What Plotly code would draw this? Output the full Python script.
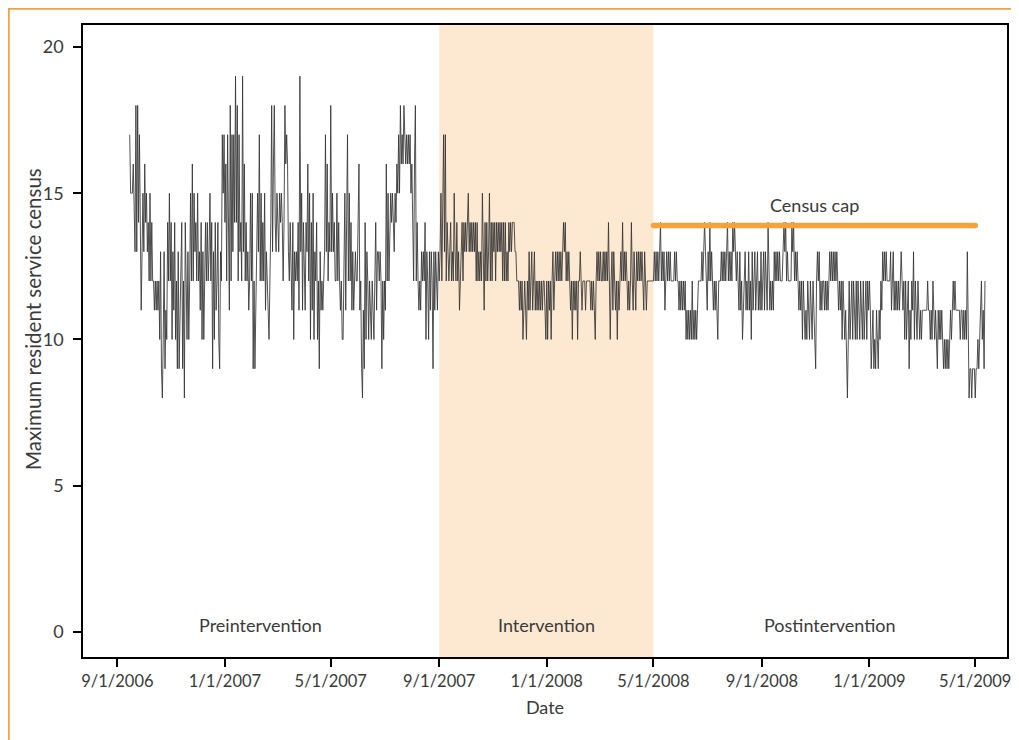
import pandas as pd
import plotly.graph_objects as go

# ---- data ----
start_date = "2006-09-15"
census = [
    # Sep 2006 - Jan 2007
    17, 15, 15, 15, 16, 14, 13, 18, 13, 18, 14, 17, 12, 11, 13,
    15, 13, 16, 14, 15, 13, 14, 12, 15, 12, 14, 12, 12, 11, 12, 11,
    12, 11, 12, 10, 13, 9, 8, 10, 13, 9, 11, 10, 14, 12, 15, 12,
    14, 10, 13, 11, 14, 10, 12, 9, 13, 9, 11, 13, 14, 9, 12, 8,
    14, 12, 10, 13, 10, 12, 15, 12, 16, 12, 15, 13, 14, 12, 15, 12,
    13, 11, 14, 10, 13, 10, 12, 14, 12, 14, 12, 13, 15, 12, 14, 9,
    13, 10, 14, 11, 12, 14, 10, 9, 13, 12, 17, 15, 17, 14, 16, 12,
    17, 13, 11,
    # Jan 2007 - May 2007
    18, 12, 17, 13, 17, 14, 19, 14, 18, 12, 17, 13, 14, 12, 19, 13,
    16, 12, 14, 12, 13, 11, 12, 15, 12, 15, 9, 12, 9, 11, 12, 15,
    13, 17, 12, 15, 12, 14, 12, 15, 11, 13, 12, 11, 10, 12, 14, 18,
    13, 16, 18, 14, 13, 15, 14, 13, 15, 14, 15, 14, 12, 14, 18, 16,
    17, 16, 13, 12, 14, 12, 11, 14, 10, 13, 12, 13, 12, 14, 11, 19,
    13, 15, 11, 14, 12, 11, 14, 13, 16, 12, 15, 10, 14, 11, 15, 10,
    13, 12, 14, 10, 12, 9, 13, 11, 12, 11, 12, 13, 17, 13, 16, 12,
    14, 13, 18, 13, 15, 13, 14, 12,
    # May 2007 - Sep 2007
    12, 15, 12, 14, 12, 11, 12, 10, 10, 12, 15, 11, 14, 17, 12, 15,
    12, 14, 11, 13, 11, 12, 13, 12, 12, 14, 16, 11, 12, 9, 8, 11,
    9, 14, 10, 13, 12, 10, 12, 11, 10, 12, 11, 10, 12, 14, 11, 13,
    13, 12, 13, 12, 9, 12, 10, 12, 11, 16, 12, 15, 12, 14, 15, 14,
    15, 14, 13, 15, 14, 16, 15, 17, 15, 18, 16, 17, 16, 18, 17, 16,
    17, 16, 17, 16, 17, 15, 16, 13, 12, 16, 18, 12, 14, 12, 11, 12,
    11, 13, 12, 13, 12, 14, 10, 13, 12, 10, 13, 11, 13, 12, 9, 13,
    11, 13, 12, 11, 13, 12,
    # Sep 2007 - Jan 2008 (intervention)
    13, 15, 12, 16, 17, 13, 17, 12, 14, 13, 12, 13, 14, 12, 13, 12,
    15, 13, 12, 14, 12, 13, 11, 12, 13, 14, 12, 14, 13, 14, 13, 14,
    15, 13, 14, 13, 14, 13, 14, 13, 14, 12, 14, 12, 13, 12, 13, 12,
    15, 13, 11, 14, 12, 14, 12, 13, 15, 12, 14, 12, 14, 13, 14, 12,
    14, 13, 14, 13, 14, 13, 14, 12, 14, 12, 14, 12, 13, 12, 14, 13,
    14, 13, 14, 14, 14, 13, 13, 12, 12, 12, 11, 12, 11, 12, 10, 11,
    12, 11, 10, 12, 11, 13, 11, 12, 13, 11, 12, 13, 11, 12, 11, 12,
    11, 12, 11, 12, 11, 12, 12, 11,
    # Jan 2008 - May 2008
    10, 12, 10, 12, 11, 12, 10, 12, 13, 11, 12, 13, 12, 13, 12, 13,
    12, 13, 12, 13, 14, 13, 14, 12, 13, 12, 13, 12, 11, 12, 10, 12,
    11, 12, 11, 12, 10, 12, 12, 13, 12, 11, 12, 12, 12, 11, 12, 12,
    12, 12, 12, 11, 12, 11, 12, 11, 10, 12, 13, 12, 13, 12, 13, 12,
    12, 13, 12, 13, 12, 13, 12, 14, 12, 10, 12, 13, 11, 13, 12, 11,
    12, 10, 12, 11, 12, 13, 12, 14, 12, 13, 12, 13, 12, 11, 12, 11,
    12, 14, 12, 11, 13, 12, 11, 13, 12, 13, 12, 13, 12, 13, 12, 11,
    13, 12, 11, 12, 12, 12, 12, 12, 12, 12, 12, 13,
    # May 2008 - Sep 2008
    12, 13, 12, 13, 12, 13, 14, 12, 13, 12, 13, 11, 12, 13, 12, 13,
    12, 13, 12, 12, 12, 12, 13, 12, 13, 12, 12, 11, 12, 11, 12, 11,
    12, 11, 12, 10, 11, 10, 11, 10, 11, 10, 12, 10, 11, 10, 11, 10,
    11, 12, 12, 12, 12, 13, 12, 13, 14, 13, 12, 11, 13, 12, 14, 12,
    13, 12, 11, 12, 11, 12, 11, 10, 12, 12, 12, 13, 12, 13, 12, 13,
    12, 13, 14, 12, 13, 12, 13, 12, 14, 13, 14, 13, 12, 13, 12, 11,
    13, 11, 12, 10, 11, 12, 13, 11, 12, 11, 13, 11, 12, 10, 13, 11,
    12, 13, 11, 12, 13, 11, 12, 11,
    # Sep 2008 - Jan 2009
    13, 11, 12, 13, 11, 13, 12, 11, 14, 12, 11, 12, 11, 12, 11, 13,
    12, 13, 12, 13, 12, 13, 12, 12, 12, 13, 14, 13, 14, 12, 13, 12,
    12, 12, 12, 14, 13, 14, 12, 13, 12, 13, 12, 11, 12, 11, 12, 10,
    12, 11, 10, 11, 10, 12, 11, 10, 12, 11, 10, 12, 11, 10, 9, 12,
    13, 12, 13, 11, 12, 11, 12, 12, 11, 12, 11, 12, 11, 12, 13, 12,
    13, 12, 13, 12, 13, 12, 13, 12, 11, 12, 11, 12, 10, 12, 11, 10,
    11, 9, 8, 10, 12, 10, 11, 12, 10, 12, 11, 10, 12, 10, 12, 11,
    10, 12, 11, 10, 12, 10, 11, 12, 10, 12, 11, 12,
    # Jan 2009 - May 2009
    11, 9, 10, 11, 9, 10, 9, 11, 10, 9, 11, 10, 12, 11, 13, 12,
    13, 12, 13, 12, 12, 12, 12, 13, 11, 12, 13, 11, 12, 11, 12, 11,
    12, 11, 12, 13, 12, 11, 12, 10, 12, 10, 11, 12, 9, 11, 10, 12,
    11, 13, 10, 12, 11, 10, 12, 11, 10, 11, 10, 11, 11, 11, 11, 11,
    11, 12, 11, 11, 10, 11, 10, 12, 11, 10, 11, 10, 9, 11, 10, 11,
    10, 11, 10, 9, 10, 9, 10, 9, 10, 9, 10, 11, 10, 11, 12, 11,
    12, 11, 11, 11, 11, 11, 10, 11, 11, 10, 11, 10, 11, 10, 13, 9,
    8, 9, 9, 8, 9, 9, 9, 8, 9, 9, 10, 9, 10, 11, 12, 10,
    11, 9, 12,
]

census_cap = 13.9
cap_start, cap_end = "2008-05-01", "2009-05-01"
phase_names = ["Preintervention", "Intervention", "Postintervention"]
phase_label_dates = ["2007-02-10", "2008-01-01", "2008-11-17"]
phase_bounds = ["2006-07-24", "2007-09-01", "2008-05-01", "2009-06-06"]
x_tick_dates = ["2006-09-01", "2007-01-01", "2007-05-01", "2007-09-01",
                "2008-01-01", "2008-05-01", "2008-09-01", "2009-01-01", "2009-05-01"]
x_tick_text = ["9/1/2006", "1/1/2007", "5/1/2007", "9/1/2007",
               "1/1/2008", "5/1/2008", "9/1/2008", "1/1/2009", "5/1/2009"]
y_ticks = [0, 5, 10, 15, 20]

dates = pd.date_range(start_date, periods=len(census), freq="D")

FONT = "Lato"
TXT = "#3a3a3a"
ORANGE = "#f5a23c"
FS = 18
TFS = 16.5

fig = go.Figure()

fig.add_trace(go.Scatter(
    x=dates, y=census, mode="lines",
    line=dict(color="#333333", width=0.85),
    hoverinfo="skip", showlegend=False,
))

fig.add_trace(go.Scatter(
    x=[cap_start, cap_end], y=[census_cap, census_cap], mode="lines+markers",
    line=dict(color=ORANGE, width=5.5),
    marker=dict(color=ORANGE, size=5.5),
    showlegend=False, hoverinfo="skip",
))

# intervention shading
fig.add_shape(type="rect", xref="x", yref="paper",
              x0=phase_bounds[1], x1=phase_bounds[2], y0=0, y1=1,
              fillcolor="#fde8d2", line_width=0, layer="below")

# phase labels
for name, d in zip(phase_names, phase_label_dates):
    fig.add_annotation(x=d, y=0.25, xref="x", yref="y", text=name,
                       showarrow=False, font=dict(family=FONT, size=FS, color=TXT))

fig.add_annotation(x=pd.Timestamp(cap_start) + (pd.Timestamp(cap_end) - pd.Timestamp(cap_start)) / 2,
                   y=14.6, xref="x", yref="y", text="Census cap", showarrow=False,
                   font=dict(family=FONT, size=FS, color=TXT))

# page body has an 8px offset; figure coords = screen coords - 8
W, H = 1019, 740
L, R, T, B = 75, 20, 17, 91
pw, ph = W - L - R, H - T - B
def px(xp): return (xp - L) / pw
def py(yp): return (H - B - yp) / ph

# y-axis title
fig.add_annotation(x=px(25), y=py(311), xref="paper", yref="paper",
                   text="Maximum resident service census", textangle=-90,
                   showarrow=False, xanchor="center", yanchor="middle",
                   font=dict(family=FONT, size=20.5, color=TXT))

fig.add_shape(type="line", xref="paper", yref="paper",
              x0=px(0), x1=px(1019), y0=py(0.5), y1=py(0.5),
              line=dict(color=ORANGE, width=2.5))
fig.add_shape(type="line", xref="paper", yref="paper",
              x0=px(0.5), x1=px(0.5), y0=py(0), y1=py(740),
              line=dict(color=ORANGE, width=2.5))

fig.update_layout(
    width=W, height=H,
    margin=dict(l=L, r=R, t=T, b=B),
    paper_bgcolor="white", plot_bgcolor="white",
    font=dict(family=FONT, size=FS, color=TXT),
    showlegend=False,
)
fig.update_xaxes(
    range=[phase_bounds[0], phase_bounds[3]],
    tickvals=x_tick_dates, ticktext=x_tick_text,
    showgrid=False, zeroline=False,
    showline=True, linecolor="black", linewidth=1.5, mirror=True,
    ticks="outside", ticklen=8, tickwidth=2, tickcolor="black",
    tickfont=dict(family=FONT, size=TFS, color=TXT),
    title=dict(text="Date", font=dict(family=FONT, size=FS, color=TXT), standoff=12),
    automargin=False,
)
fig.update_yaxes(
    range=[-0.855, 20.75],
    tickvals=y_ticks,
    showgrid=False, zeroline=False,
    showline=True, linecolor="black", linewidth=1.5, mirror=True,
    ticks="outside", ticklen=8, tickwidth=2, tickcolor="black",
    ticklabelstandoff=6,
    tickfont=dict(family=FONT, size=FS, color=TXT),
    automargin=False,
)

fig.write_html("out.html")
